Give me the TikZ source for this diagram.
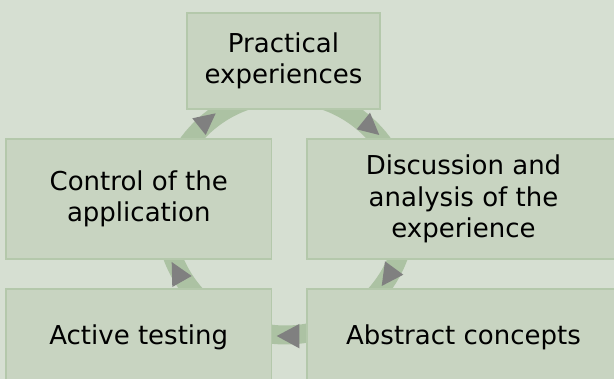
\documentclass[tikz,border=0pt]{standalone}
\usepackage{fontspec}
\setmainfont{DejaVu Sans}
\definecolor{bgcol}{RGB}{214,223,210}
\definecolor{boxfill}{RGB}{200,212,193}
\definecolor{boxline}{RGB}{180,200,171}
\definecolor{ringcol}{RGB}{172,194,163}
\definecolor{tipcol}{RGB}{128,128,128}
\begin{document}
\begin{tikzpicture}[x=1pt,y=-1pt,
  stagebox/.style={draw=boxline,fill=boxfill,line width=1.5pt,inner sep=0pt,
    align=center,font=\fontsize{26}{31.6}\selectfont,text=black},
  ring/.style={draw=ringcol,line width=19pt},
  tip/.style={fill=tipcol,draw=none}]
  % canvas
  \fill[bgcol] (0,0) rectangle (614,379);
  \useasboundingbox (0,0) rectangle (614,379);
  \begin{scope}
  \clip (0,0) rectangle (614,379);
  % cycle ring behind the boxes
  \coordinate (hub) at (285.5,214.5);
  \draw[ring] (hub) circle[radius=120.5pt];
  % arrowheads on the ring
  \fill[tip] (192.3,118.3) -- (215.7,113.3) -- (205.7,135) -- cycle;
  \fill[tip] (370,112.7) -- (379.3,135) -- (356.7,129.3) -- cycle;
  \fill[tip] (171.7,262) -- (191.7,276) -- (172.3,287) -- cycle;
  \fill[tip] (385,261.3) -- (403.3,274.7) -- (381.7,286) -- cycle;
  \fill[tip] (276.7,336) -- (299.3,324) -- (299.3,348.3) -- cycle;
  % stages
  \node[stagebox,minimum width=193pt,minimum height=96pt] (prac) at (283.5,61)
    {Practical\\experiences};
  \node[stagebox,minimum width=265.5pt,minimum height=120pt] (ctrl) at (138.75,199)
    {Control of the\\application};
  \node[stagebox,minimum width=313pt,minimum height=120pt] (disc) at (463.5,199)
    {Discussion and\\analysis of the\\experience};
  \node[stagebox,minimum width=265.5pt,minimum height=97pt] (test) at (138.75,337.5)
    {Active testing};
  \node[stagebox,minimum width=313pt,minimum height=97pt] (abst) at (463.5,337.5)
    {Abstract concepts};
  \end{scope}
\end{tikzpicture}
\end{document}
